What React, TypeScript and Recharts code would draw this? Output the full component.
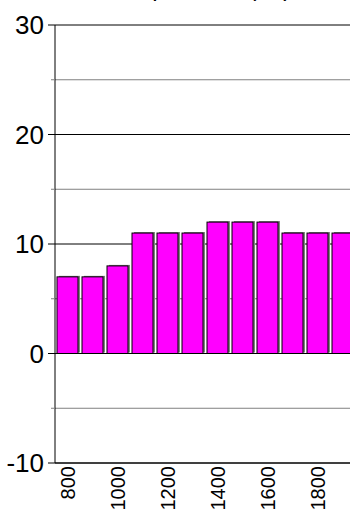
import { BarChart, Bar, XAxis, YAxis, CartesianGrid } from "recharts";

const categories = ["800", "900", "1000", "1100", "1200", "1300", "1400", "1500", "1600", "1700", "1800", "1900"];
const values = [7, 7, 8, 11, 11, 11, 12, 12, 12, 11, 11, 11];
const yTicks = [-10, -5, 0, 5, 10, 15, 20, 25, 30];
const majorLines = [-10, 0, 10, 20, 30];
const minorLines = [-5, 5, 15, 25];
const title = "Temperature (°C)";

const FONT = "'Liberation Sans', Arial, sans-serif";

const YTick = (props: any) => {
  const { x, y, payload } = props;
  const major = payload.value % 10 === 0;
  return (
    <g>
      <line x1={x - (major ? 7 : 4)} x2={x} y1={y} y2={y} stroke={major ? "#000" : "#808080"} />
      {major && (
        <text x={x - 11} y={y} dy="0.36em" textAnchor="end" fontSize={26} fontFamily={FONT} fill="#000">
          {payload.value}
        </text>
      )}
    </g>
  );
};

const XTick = (props: any) => {
  const { x, y, payload } = props;
  const ty = y + 3;
  return (
    <text
      x={x}
      y={ty}
      transform={`rotate(-90, ${x}, ${ty})`}
      textAnchor="end"
      dy="0.36em"
      fontSize={20}
      fontFamily={FONT}
      fill="#000"
    >
      {payload.value}
    </text>
  );
};

const ShadowBar = (props: any) => {
  const { x, y, width, height } = props;
  if (!width || height == null) return null;
  return (
    <g>
      <rect x={x + 2} y={y - 1} width={width} height={height} fill="#808080" />
      <rect x={x} y={y} width={width} height={height} fill="#ff00ff" stroke="#000" strokeWidth={1} />
    </g>
  );
};

export default function App() {
  const chartData = categories.map((c, i) => ({ name: c, value: values[i] }));

  return (
    <div style={{ position: "absolute", left: 0, top: 0, width: 350, height: 515, overflow: "hidden", background: "#fff" }}>
      <div
        style={{
          position: "absolute",
          left: 107,
          top: -27,
          fontFamily: FONT,
          fontSize: 24,
          lineHeight: "30px",
          whiteSpace: "nowrap",
          color: "#000"
        }}
      >
        {title}
      </div>
      <BarChart
        width={360}
        height={540}
        data={chartData}
        margin={{ top: 25, right: 5, bottom: 0, left: 0 }}
        barCategoryGap={2}
      >
        <CartesianGrid vertical={false} horizontalValues={minorLines} stroke="#808080" />
        <CartesianGrid vertical={false} horizontalValues={majorLines} stroke="#000" />
        <XAxis
          dataKey="name"
          interval={1}
          height={77}
          tickLine={false}
          tickSize={0}
          tickMargin={0}
          axisLine={{ stroke: "#000" }}
          tick={<XTick />}
        />
        <YAxis
          domain={[-10, 30]}
          ticks={yTicks}
          interval={0}
          width={55}
          tickLine={false}
          tickSize={0}
          tickMargin={0}
          axisLine={{ stroke: "#000" }}
          tick={<YTick />}
        />
        <Bar dataKey="value" shape={<ShadowBar />} isAnimationActive={false} />
      </BarChart>
    </div>
  );
}
